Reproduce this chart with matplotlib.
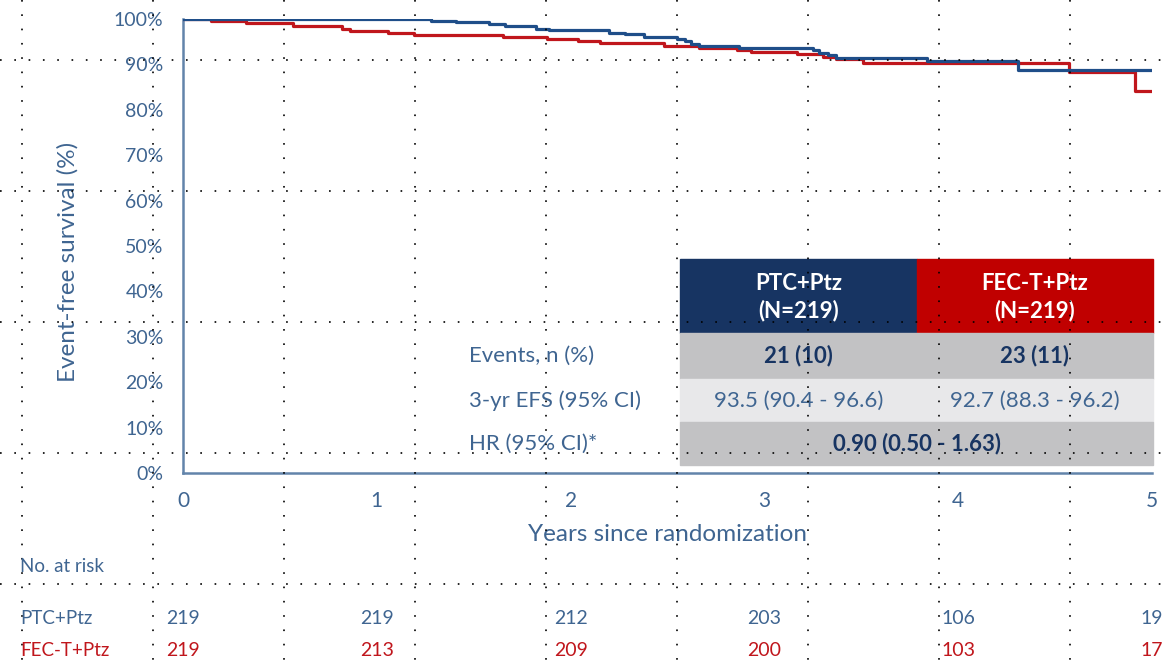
import matplotlib
matplotlib.use("Agg")
import matplotlib.pyplot as plt
from matplotlib.patches import Rectangle
import matplotlib.transforms as mtransforms

plt.rcParams['font.family'] = ['Lato', 'DejaVu Sans']
plt.rcParams['lines.scale_dashes'] = False

# Kaplan-Meier step data (years, % event-free)
ptc_t = [0, 1.28, 1.41, 1.58, 1.66, 1.82, 1.89, 2.20, 2.28, 2.38, 2.55, 2.59, 2.62,
         2.66, 2.87, 3.25, 3.28, 3.33, 3.37, 3.84, 4.31, 5.0]
ptc_s = [100, 99.6, 99.3, 98.9, 98.4, 97.9, 97.6, 97.0, 96.6, 96.1, 95.7, 95.2, 94.6,
         94.1, 93.7, 93.2, 92.6, 92.1, 91.4, 90.8, 88.8, 88.8]
fec_t = [0, 0.145, 0.325, 0.57, 0.82, 0.86, 1.06, 1.19, 1.65, 1.88, 2.04, 2.15, 2.48,
         2.66, 2.86, 2.93, 3.17, 3.30, 3.37, 3.51, 4.57, 4.91, 5.0]
fec_s = [100, 99.5, 99.1, 98.4, 97.8, 97.4, 96.9, 96.5, 96.0, 95.5, 95.2, 94.8, 94.1,
         93.7, 93.2, 92.8, 92.2, 91.7, 91.1, 90.2, 88.3, 84.1, 84.1]

risk_years = [0, 1, 2, 3, 4, 5]
ptc_risk = [219, 219, 212, 203, 106, 19]
fec_risk = [219, 213, 209, 200, 103, 17]

arm_names = ["PTC+Ptz", "FEC-T+Ptz"]
arm_n = ["(N=219)", "(N=219)"]
row_labels = ["Events, n (%)", "3-yr EFS (95% CI)", "HR (95% CI)*"]
events = ["21 (10)", "23 (11)"]
efs3 = ["93.5 (90.4 - 96.6)", "92.7 (88.3 - 96.2)"]
hr_text = "0.90 (0.50 - 1.63)"

W, H = 1167, 663
BLUE = '#1f4e89'
RED = '#c0161c'
AXC = '#6284aa'
TXT = '#3f6591'
NAVY = '#173462'
HDR_RED = '#c00000'

fig = plt.figure(figsize=(W / 100, H / 100), dpi=100)
ax = fig.add_axes([183 / W, 1 - 473 / H, (1152 - 183) / W, (473 - 19) / H])

ax.step(fec_t, fec_s, where='post', color=RED, lw=2.3, zorder=3)
ax.step(ptc_t, ptc_s, where='post', color=BLUE, lw=2.3, zorder=4)

ax.set_xlim(0, 5)
ax.set_ylim(0, 100)
ax.set_xticks(risk_years)
ax.set_yticks(range(0, 101, 10))
ax.set_yticklabels(['%d%%' % v for v in range(0, 101, 10)])
ax.tick_params(length=0, colors=TXT)
ax.tick_params(axis='x', labelsize=15, pad=13)
ax.tick_params(axis='y', labelsize=14, pad=14)
for s in ['top', 'right']:
    ax.spines[s].set_visible(False)
for s in ['left', 'bottom']:
    ax.spines[s].set_color(AXC)
    ax.spines[s].set_linewidth(1.8)
ax.set_xlabel('Years since randomization', fontsize=17.5, color=TXT, labelpad=9)
ax.set_ylabel('Event-free survival (%)', fontsize=17.5, color=TXT)
ax.yaxis.set_label_coords(-0.108, 0.465)

# Numbers at risk below the axis
trans = mtransforms.blended_transform_factory(ax.transData, fig.transFigure)
fig.text(20 / W, 1 - 567 / H, 'No. at risk', fontsize=13.5, color=TXT, va='center')
fig.text(20 / W, 1 - 618 / H, arm_names[0], fontsize=13.5, color=TXT, va='center')
fig.text(20 / W, 1 - 650 / H, arm_names[1], fontsize=13.5, color=RED, va='center')
for yr, a, b in zip(risk_years, ptc_risk, fec_risk):
    ax.text(yr, 1 - 618 / H, str(a), transform=trans, fontsize=14, color=TXT,
            ha='center', va='center', clip_on=False)
    ax.text(yr, 1 - 650 / H, str(b), transform=trans, fontsize=14, color=RED,
            ha='center', va='center', clip_on=False)

# Summary table, laid out in pixel space
ov = fig.add_axes([0, 0, 1, 1], facecolor='none')
ov.set_xlim(0, W)
ov.set_ylim(H, 0)
ov.axis('off')
x0, xm, x1 = 680, 917, 1153
rows_y = [259, 333, 379, 422, 465]
ov.add_patch(Rectangle((x0, rows_y[0]), xm - x0, rows_y[1] - rows_y[0], color=NAVY, zorder=5))
ov.add_patch(Rectangle((xm, rows_y[0]), x1 - xm, rows_y[1] - rows_y[0], color=HDR_RED, zorder=5))
ov.add_patch(Rectangle((x0, rows_y[1]), x1 - x0, rows_y[2] - rows_y[1], color='#c2c2c4', zorder=5))
ov.add_patch(Rectangle((x0, rows_y[2]), x1 - x0, rows_y[3] - rows_y[2], color='#e8e8ea', zorder=5))
ov.add_patch(Rectangle((x0, rows_y[3]), x1 - x0, rows_y[4] - rows_y[3], color='#c2c2c4', zorder=5))
cx = [(x0 + xm) / 2, (xm + x1) / 2]
for i in range(2):
    ov.text(cx[i], 283, arm_names[i], color='white', fontsize=16, fontweight='bold',
            ha='center', va='center', zorder=6)
    ov.text(cx[i], 311, arm_n[i], color='white', fontsize=16, fontweight='bold',
            ha='center', va='center', zorder=6)
    ov.text(cx[i], 356, events[i], color=NAVY, fontsize=16, fontweight='bold',
            ha='center', va='center', zorder=6)
    ov.text(cx[i], 401, efs3[i], color=TXT, fontsize=16, ha='center', va='center', zorder=6)
ov.text(xm, 444, hr_text, color=NAVY, fontsize=16, fontweight='bold',
        ha='center', va='center', zorder=6)
for lab, yc in zip(row_labels, [356, 401, 444]):
    ov.text(469, yc, lab, color=TXT, fontsize=16, ha='left', va='center', zorder=6)

# Dotted layout guides over the whole slide
dots = (0, (1.2, 9.1))
for gx in range(22, W, 131):
    ov.plot([gx, gx], [0, H], color='black', lw=1.2, ls=dots, zorder=10)
for gy in range(60, H, 131):
    ov.plot([0, W], [gy, gy], color='black', lw=1.2, ls=dots, zorder=10)

fig.savefig('out.png', dpi=100)
